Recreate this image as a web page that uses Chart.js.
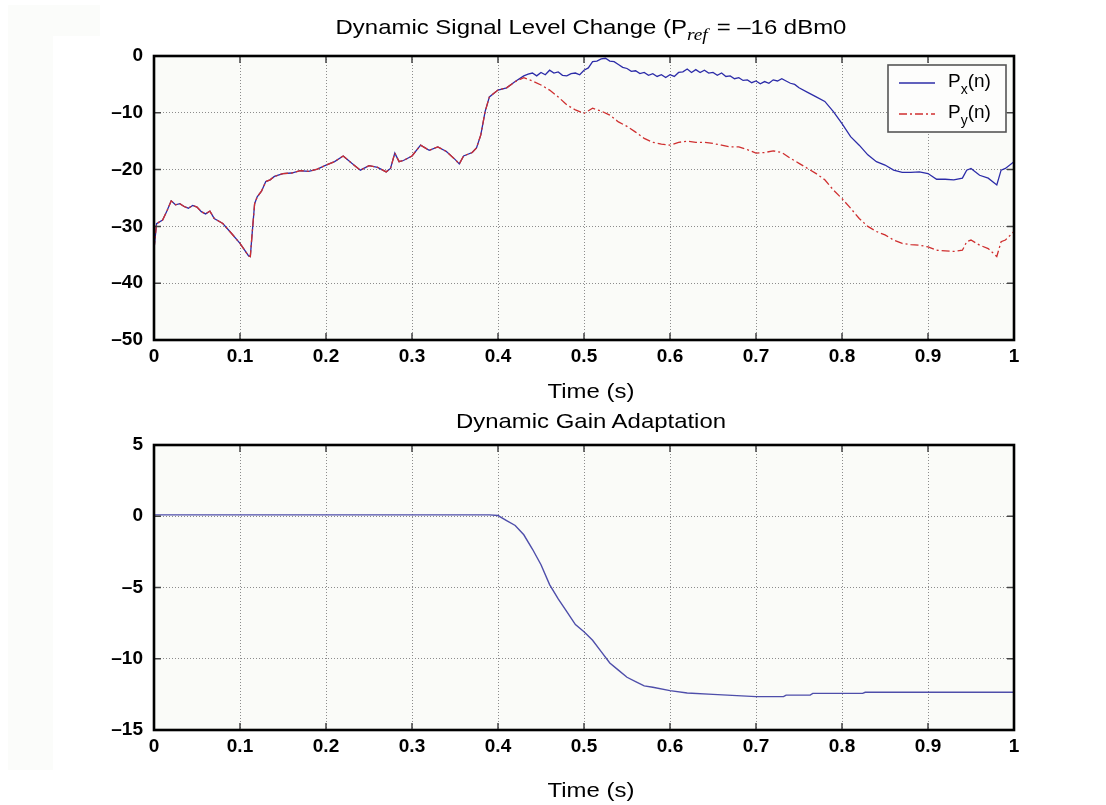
<!DOCTYPE html>
<html>
<head>
<meta charset="utf-8">
<script src="https://cdn.jsdelivr.net/npm/chart.js@4.4.1/dist/chart.umd.min.js"></script>
<style>
  body { margin: 0; background: #fff; width: 1106px; height: 805px; position: relative; overflow: hidden; }
  canvas { position: absolute; left: 0; }
  .shade { position: absolute; background: #fbfcfa; }
  .lbl {
    position: absolute; left: 591px; white-space: nowrap; color: #000;
    font: 21px/1 "Liberation Sans", Arial, sans-serif;
    transform: translateX(-50%) scaleX(1.14);
  }
  .ref { font: italic 17px "Liberation Serif", "Times New Roman", serif; vertical-align: -6px; margin-right: 2px; }
</style>
</head>
<body>
<div class="shade" style="left:8px;top:5px;width:45px;height:765px"></div>
<div class="shade" style="left:8px;top:5px;width:92px;height:31px"></div>
<canvas id="levelChart" width="1106" height="400" style="top:0"></canvas>
<canvas id="gainChart" width="1106" height="405" style="top:400px"></canvas>
<div class="lbl" style="top:16px">Dynamic Signal Level Change (P<span class="ref">ref</span> = &ndash;16 dBm0</div>
<div class="lbl" style="top:380px">Time (s)</div>
<div class="lbl" style="top:410px">Dynamic Gain Adaptation</div>
<div class="lbl" style="top:779px">Time (s)</div>
<script>
// ---- data ----
// common part of both level curves (they coincide until ~0.43 s)
var timeHead = [0, 0.003, 0.01, 0.015, 0.02, 0.025, 0.03, 0.035, 0.04, 0.045,
    0.05, 0.055, 0.06, 0.065, 0.07, 0.08, 0.09, 0.10, 0.11, 0.112,
    0.114, 0.117, 0.12, 0.125, 0.13, 0.135, 0.14, 0.15, 0.16, 0.17,
    0.18, 0.19, 0.20, 0.21, 0.22, 0.23, 0.24, 0.25, 0.26, 0.27,
    0.275, 0.28, 0.285, 0.29, 0.30, 0.31, 0.32, 0.33, 0.34, 0.35,
    0.355, 0.36, 0.37, 0.375, 0.38, 0.385, 0.39, 0.40, 0.41, 0.42];
var levelHead = [-34.0, -29.5, -28.9, -27.3, -25.5, -26.2, -26.0, -26.5, -26.8, -26.3,
    -26.6, -27.4, -27.8, -27.3, -28.6, -29.5, -31.2, -33.0, -35.2, -35.3,
    -31.5, -26.0, -24.8, -23.8, -22.1, -21.8, -21.2, -20.7, -20.6, -20.2,
    -20.3, -19.9, -19.2, -18.6, -17.6, -18.9, -20.1, -19.3, -19.6, -20.4,
    -19.8, -17.1, -18.6, -18.4, -17.6, -15.7, -16.6, -16.0, -16.8, -18.2,
    -19.0, -17.6, -17.0, -16.2, -13.9, -9.8, -7.2, -6.0, -5.6, -4.5];

// Px(n) after the split
var timePxTail = [0.43, 0.435, 0.44, 0.445, 0.45, 0.455, 0.46, 0.465, 0.47, 0.475,
    0.48, 0.485, 0.49, 0.495, 0.50, 0.505, 0.51, 0.515, 0.52, 0.525,
    0.53, 0.535, 0.54, 0.545, 0.55, 0.555, 0.56, 0.565, 0.57, 0.575,
    0.58, 0.585, 0.59, 0.595, 0.60, 0.605, 0.61, 0.615, 0.62, 0.625,
    0.63, 0.635, 0.64, 0.645, 0.65, 0.655, 0.66, 0.665, 0.67, 0.675,
    0.68, 0.685, 0.69, 0.695, 0.70, 0.705, 0.71, 0.715, 0.72, 0.725,
    0.73, 0.735, 0.74, 0.745, 0.75, 0.76, 0.77, 0.78, 0.79, 0.80,
    0.81, 0.82, 0.83, 0.84, 0.85, 0.86, 0.87, 0.88, 0.89, 0.90,
    0.91, 0.92, 0.93, 0.94, 0.945, 0.95, 0.96, 0.97, 0.98, 0.985,
    0.99, 1.00];
var levelPxTail = [-3.5, -3.2, -3.0, -3.5, -2.9, -3.3, -2.5, -3.0, -2.8, -3.4,
    -3.5, -3.1, -3.0, -3.3, -2.5, -2.1, -1.0, -0.9, -0.5, -0.4,
    -0.9, -1.0, -1.5, -2.0, -2.2, -2.7, -2.6, -3.1, -2.9, -3.4,
    -3.1, -3.6, -3.3, -3.8, -3.3, -3.6, -2.9, -2.8, -2.3, -2.9,
    -2.4, -2.9, -2.5, -3.0, -2.9, -3.4, -3.0, -3.6, -3.5, -4.0,
    -3.8, -4.3, -4.2, -4.7, -4.4, -4.9, -4.5, -4.8, -4.2, -4.4,
    -4.0, -4.4, -4.8, -5.0, -5.6, -6.4, -7.2, -8.0, -9.8, -11.9,
    -14.2, -15.7, -17.4, -18.6, -19.2, -20.1, -20.5, -20.5, -20.4, -20.7,
    -21.7, -21.7, -21.8, -21.5, -20.1, -19.8, -21.0, -21.5, -22.7, -20.1,
    -19.8, -18.6];

// Py(n) after the split
var timePyTail = [0.43, 0.44, 0.45, 0.46, 0.47, 0.48, 0.49, 0.50, 0.51, 0.52,
    0.53, 0.54, 0.55, 0.56, 0.57, 0.58, 0.59, 0.60, 0.61, 0.62,
    0.63, 0.64, 0.65, 0.66, 0.67, 0.68, 0.69, 0.70, 0.71, 0.72,
    0.73, 0.74, 0.75, 0.76, 0.77, 0.78, 0.79, 0.80, 0.81, 0.82,
    0.83, 0.84, 0.85, 0.86, 0.87, 0.88, 0.89, 0.90, 0.91, 0.92,
    0.93, 0.94, 0.945, 0.95, 0.96, 0.97, 0.98, 0.985, 0.99, 1.00];
var levelPyTail = [-3.8, -4.4, -5.1, -6.0, -7.2, -8.6, -9.5, -10.1, -9.2, -9.7,
    -10.4, -11.6, -12.4, -13.4, -14.5, -15.2, -15.5, -15.7, -15.2, -15.0,
    -15.2, -15.2, -15.4, -15.7, -16.0, -16.0, -16.5, -17.1, -17.0, -16.7,
    -17.0, -18.0, -18.9, -19.8, -20.7, -21.8, -23.6, -25.1, -26.8, -28.6,
    -30.0, -30.9, -31.5, -32.4, -33.0, -33.2, -33.3, -33.6, -34.2, -34.3,
    -34.4, -34.2, -32.7, -32.4, -33.3, -33.9, -35.3, -32.7, -32.4, -30.9];

// gain curve (dB)
var timeGain = [0, 0.1, 0.2, 0.3, 0.39, 0.40, 0.41, 0.42, 0.43, 0.44,
    0.45, 0.46, 0.47, 0.48, 0.49, 0.50, 0.51, 0.52, 0.53, 0.54,
    0.55, 0.56, 0.57, 0.58, 0.60, 0.62, 0.65, 0.70, 0.732, 0.735,
    0.763, 0.766, 0.824, 0.827, 1.0];
var gainDb = [0.1, 0.1, 0.1, 0.1, 0.1, 0.05, -0.3, -0.65, -1.3, -2.3,
    -3.4, -4.8, -5.8, -6.7, -7.6, -8.1, -8.7, -9.5, -10.3, -10.8,
    -11.3, -11.6, -11.9, -12.0, -12.24, -12.4, -12.5, -12.66, -12.66, -12.55,
    -12.55, -12.43, -12.43, -12.35, -12.35];

// axis ranges / tick steps
var timeRange = [0, 1], timeStep = 0.1;
var levelRange = [-50, 0], levelStep = 10;
var gainRange = [-15, 5], gainStep = 5;

var legendNames = [['P', 'x', '(n)'], ['P', 'y', '(n)']];

function toPoints(xs, ys) {
    return xs.map(function(x, i) { return { x: x, y: ys[i] }; });
}

var tickFont = { family: '"Liberation Sans", Arial, sans-serif', size: 19, weight: 'bold' };

function fmtTime(v) {
    if (v === 0 || v === 1) return String(v);
    return v.toFixed(1);
}
function fmtLevel(v) {
    return v < 0 ? '\u2013' + (-v) : String(v);
}

// plot background, inward tick marks and the heavy frame
var framePlugin = {
    id: 'frame',
    beforeDraw: function(chart) {
        var a = chart.chartArea, ctx = chart.ctx;
        ctx.save();
        ctx.fillStyle = '#fafbf8';
        ctx.fillRect(a.left, a.top, a.right - a.left, a.bottom - a.top);
        ctx.restore();
    },
    afterDraw: function(chart) {
        var a = chart.chartArea, ctx = chart.ctx;
        var xs = chart.scales.x, ys = chart.scales.y;
        var len = 7;
        ctx.save();
        ctx.strokeStyle = '#444';
        ctx.lineWidth = 1.5;
        ctx.beginPath();
        xs.ticks.forEach(function(t) {
            var px = xs.getPixelForValue(t.value);
            ctx.moveTo(px, a.top); ctx.lineTo(px, a.top + len);
            ctx.moveTo(px, a.bottom); ctx.lineTo(px, a.bottom - len);
        });
        ys.ticks.forEach(function(t) {
            var py = ys.getPixelForValue(t.value);
            ctx.moveTo(a.left, py); ctx.lineTo(a.left + len, py);
            ctx.moveTo(a.right, py); ctx.lineTo(a.right - len, py);
        });
        ctx.stroke();
        ctx.strokeStyle = '#000';
        ctx.lineWidth = 2.6;
        ctx.strokeRect(a.left, a.top, a.right - a.left, a.bottom - a.top);
        ctx.restore();
    }
};

// legend box with subscripts, top right of the level plot
var legendPlugin = {
    id: 'subLegend',
    afterDraw: function(chart) {
        var a = chart.chartArea, ctx = chart.ctx;
        var right = a.right - 8, top = a.top + 9, w = 118, h = 67;
        var left = right - w;
        ctx.save();
        ctx.fillStyle = '#fdfdfc';
        ctx.fillRect(left, top, w, h);
        ctx.strokeStyle = '#555';
        ctx.lineWidth = 1.6;
        ctx.strokeRect(left, top, w, h);
        chart.data.datasets.slice().reverse().forEach(function(ds, i) {
            var y = top + 18 + i * 31;
            ctx.strokeStyle = ds.borderColor;
            ctx.lineWidth = 1.3;
            ctx.setLineDash(ds.borderDash || []);
            ctx.beginPath();
            ctx.moveTo(left + 11, y);
            ctx.lineTo(left + 47, y);
            ctx.stroke();
            ctx.setLineDash([]);
            var name = legendNames[i];
            var x = left + 60;
            ctx.fillStyle = '#000';
            ctx.textBaseline = 'alphabetic';
            ctx.font = '19px "Liberation Sans", Arial, sans-serif';
            ctx.fillText(name[0], x, y + 4);
            x += ctx.measureText(name[0]).width;
            ctx.font = '14px "Liberation Sans", Arial, sans-serif';
            ctx.fillText(name[1], x, y + 11);
            x += ctx.measureText(name[1]).width;
            ctx.font = '19px "Liberation Sans", Arial, sans-serif';
            ctx.fillText(name[2], x, y + 4);
        });
        ctx.restore();
    }
};

function makeChart(id, datasets, yRange, yStep, padTop, xAxisHeight, plugins) {
    return new Chart(document.getElementById(id), {
        type: 'line',
        data: { datasets: datasets },
        options: {
            responsive: false,
            animation: false,
            parsing: true,
            layout: { padding: { left: 0, right: 92, top: padTop, bottom: 0 } },
            elements: { point: { radius: 0 }, line: { tension: 0 } },
            plugins: { legend: { display: false }, tooltip: { enabled: false } },
            scales: {
                x: {
                    type: 'linear',
                    min: timeRange[0], max: timeRange[1],
                    afterFit: function(s) { s.height = xAxisHeight; },
                    ticks: { stepSize: timeStep, font: tickFont, color: '#000', padding: 5,
                        maxRotation: 0, autoSkip: false, callback: fmtTime },
                    grid: { color: '#8c8c8c', lineWidth: 1, drawTicks: false },
                    border: { display: false, dash: [1, 2] }
                },
                y: {
                    min: yRange[0], max: yRange[1],
                    afterFit: function(s) { s.width = 154; },
                    ticks: { stepSize: yStep, font: tickFont, color: '#000', padding: 11,
                        callback: fmtLevel },
                    grid: { color: '#8c8c8c', lineWidth: 1, drawTicks: false },
                    border: { display: false, dash: [1, 2] }
                }
            }
        },
        plugins: [framePlugin].concat(plugins || [])
    });
}

makeChart('levelChart', [
    {
        label: 'Py(n)',
        data: toPoints(timeHead.concat(timePyTail), levelHead.concat(levelPyTail)),
        borderColor: '#cf2f2f',
        borderWidth: 1.3,
        borderDash: [8, 3, 2, 3]
    },
    {
        label: 'Px(n)',
        data: toPoints(timeHead.concat(timePxTail), levelHead.concat(levelPxTail)),
        borderColor: '#2c2ca8',
        borderWidth: 1.3
    }
], levelRange, levelStep, 56, 60, [legendPlugin]);

makeChart('gainChart', [
    {
        label: 'gain',
        data: toPoints(timeGain, gainDb),
        borderColor: '#4e4eaa',
        borderWidth: 1.4
    }
], gainRange, gainStep, 45, 75);
</script>
</body>
</html>
